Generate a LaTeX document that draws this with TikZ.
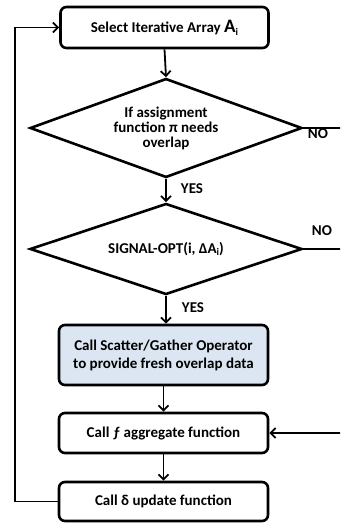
\documentclass[tikz,border=0pt]{standalone}
\usepackage{fontspec}
\setmainfont{Carlito}
\usetikzlibrary{shapes.geometric,arrows.meta}
\definecolor{boxblue}{HTML}{DCE6F2}
\begin{document}
\begin{tikzpicture}[x=1pt,y=-1pt,
  every node/.style={font=\bfseries\fontsize{15}{15}\selectfont},
  procbox/.style={draw, line width=2.6pt, rounded corners=6pt, minimum width=208pt, align=center, inner sep=0pt},
  decision/.style={draw, diamond, line width=2.6pt, inner sep=0pt, align=center, minimum width=272pt},
  flow/.style={line width=1.8pt, -{Straight Barb[length=5pt,width=10pt,line width=1.8pt]}},
  plain/.style={line width=1.8pt},
  lbl/.style={font=\bfseries\fontsize{15}{15}\selectfont, inner sep=0pt}
]
\useasboundingbox (0,0) rectangle (340,524);
\clip (0,0) rectangle (340,524);
\node[procbox, minimum height=41pt] (sel) at (164.5,27.5) {Select Iterative Array {\fontsize{19}{19}\selectfont A}\raisebox{-3pt}{\fontsize{10}{10}\selectfont i}};
\node[decision, aspect=2.75, minimum height=99pt] (d1) at (166,128) {If assignment\\function π needs\\overlap};
\node[decision, aspect=3, minimum height=91pt] (d2) at (166,249) {SIGNAL-OPT(i, ΔA\raisebox{-2.5pt}{\fontsize{10}{10}\selectfont i})};
\node[procbox, fill=boxblue, minimum height=60pt, minimum width=209pt, font=\bfseries\fontsize{15}{18}\selectfont] (sg) at (163.5,355) {Call Scatter/Gather Operator\\to provide fresh overlap data};
\node[procbox, minimum height=40pt, minimum width=209pt] (agg) at (163.5,433) {Call ƒ aggregate function};
\node[procbox, minimum height=39pt, minimum width=209pt] (upd) at (163.5,501.5) {Call δ update function};
\coordinate (no1) at (345,128);
\coordinate (no2) at (345,249);
\coordinate (in4) at (345,433);
\coordinate (lp) at (15,501.5);
\draw[flow] (sel.south) -- (d1.north);
\draw[flow] (d1.south) -- (d2.north);
\draw[flow] (d2.south) -- (d2.south |- sg.north);
\draw[flow] (sg.south) -- (sg.south |- agg.north);
\draw[flow] (agg.south) -- (upd.north);
\draw[plain] (d1.east) -- (no1);
\draw[plain] (d2.east) -- (no2);
\draw[flow] (in4) -- (agg.east);
\draw[flow] (upd.west) -- (lp) |- (sel.west);
\node[lbl] (yes1) at (192,189) {YES};
\node[lbl] (yes2) at (193,308) {YES};
\node[lbl] (nol1) at (318,134) {NO};
\node[lbl] (nol2) at (322,231) {NO};
\end{tikzpicture}
\end{document}
